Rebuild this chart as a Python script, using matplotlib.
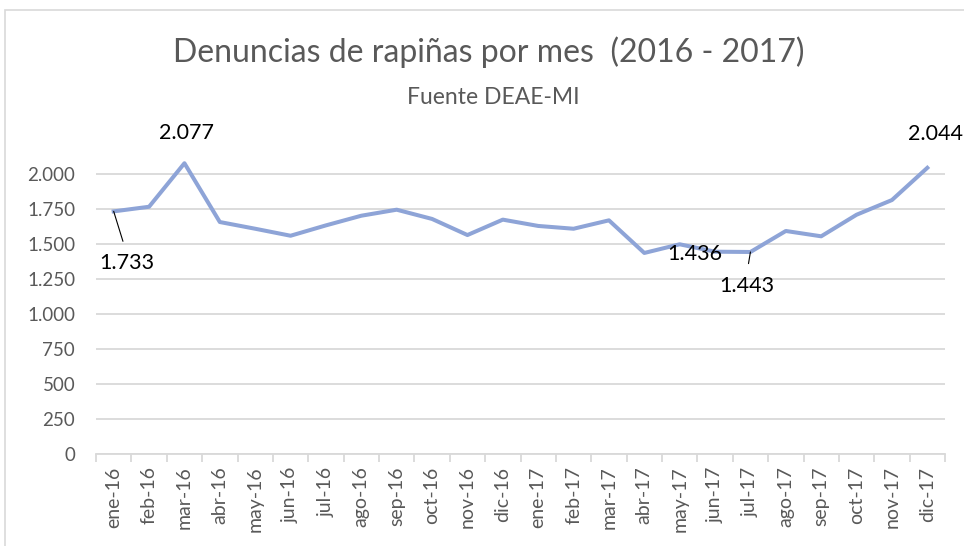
import matplotlib
matplotlib.use("Agg")
import matplotlib.pyplot as plt
from matplotlib.ticker import FuncFormatter, NullFormatter

plt.rcParams['font.family'] = ['Lato', 'DejaVu Sans']

months = ["ene-16", "feb-16", "mar-16", "abr-16", "may-16", "jun-16", "jul-16", "ago-16",
          "sep-16", "oct-16", "nov-16", "dic-16", "ene-17", "feb-17", "mar-17", "abr-17",
          "may-17", "jun-17", "jul-17", "ago-17", "sep-17", "oct-17", "nov-17", "dic-17"]
values = [1733, 1766, 2077, 1657, 1609, 1559, 1633, 1702, 1745, 1679, 1564, 1674,
          1629, 1609, 1669, 1436, 1498, 1445, 1443, 1593, 1555, 1709, 1814, 2044]
yticks = [0, 250, 500, 750, 1000, 1250, 1500, 1750, 2000]
labelled = ["ene-16", "mar-16", "abr-17", "jul-17", "dic-17"]

title = "Denuncias de rapiñas por mes  (2016 - 2017)"
subtitle = "Fuente DEAE-MI"

fig = plt.figure(figsize=(9.64, 5.46), dpi=100)
ax = fig.add_axes([96/964, 1-454/546, (945-96)/964, (454-153)/546])

x = list(range(len(months)))
ax.plot(x, values, color="#8EA4D7", lw=2.9, solid_joinstyle="round", clip_on=False, zorder=3)

ax.set_xlim(-0.5, len(months)-0.5)
ax.set_ylim(0, 2150)
ax.set_yticks(yticks)
ax.yaxis.set_major_formatter(FuncFormatter(lambda v, p: f"{int(v):,}".replace(",", ".")))
ax.grid(axis="y", color="#D9D9D9", lw=1.3)
ax.set_axisbelow(True)
for s in ["top", "right", "left"]:
    ax.spines[s].set_visible(False)
ax.spines["bottom"].set_color("#D9D9D9")
ax.spines["bottom"].set_linewidth(1.3)
ax.tick_params(axis="y", length=0, pad=15, labelsize=13.5, labelcolor="#595959")

ax.set_xticks([i - 0.5 for i in range(len(months)+1)])
ax.xaxis.set_major_formatter(NullFormatter())
ax.set_xticks(x, minor=True)
ax.set_xticklabels(months, minor=True, rotation=90)
ax.tick_params(axis="x", which="major", length=6, color="#D9D9D9", width=1.3, direction="out")
ax.tick_params(axis="x", which="minor", length=0, pad=9, labelsize=14, labelcolor="#595959")

# data labels
offsets = {
    "ene-16": (13, -52, True),
    "mar-16": (2, 30, False),
    "abr-17": (50, -1, False),
    "jul-17": (-4, -34, True),
    "dic-17": (8, 34, False),
}
for m in labelled:
    i = months.index(m)
    v = values[i]
    dx, dy, leader = offsets[m]
    txt = f"{v:,}".replace(",", ".")
    if leader:
        ax.annotate(txt, xy=(i, v), xytext=(dx, dy), textcoords="offset pixels",
                    ha="center", va="center", fontsize=15.5, color="black",
                    arrowprops=dict(arrowstyle="-", color="black", lw=0.8,
                                    relpos=(0.5, 1), shrinkA=7, shrinkB=0),
                    annotation_clip=False)
    else:
        ax.annotate(txt, xy=(i, v), xytext=(dx, dy), textcoords="offset pixels",
                    ha="center", va="center", fontsize=15.5, color="black",
                    annotation_clip=False)

fig.text(489/964, 1-52/546, title, ha="center", va="center", fontsize=23,
         color="#595959")
fig.text(493/964, 1-97/546, subtitle, ha="center", va="center", fontsize=16.5,
         color="#595959")

# chart border
border = plt.Rectangle((5/964, -0.1), 1.1, 1 - 10/546 + 0.1, transform=fig.transFigure,
                       fill=False, edgecolor="#D9D9D9", lw=1.2)
fig.add_artist(border)

fig.savefig("out.png", dpi=100, facecolor="white")
